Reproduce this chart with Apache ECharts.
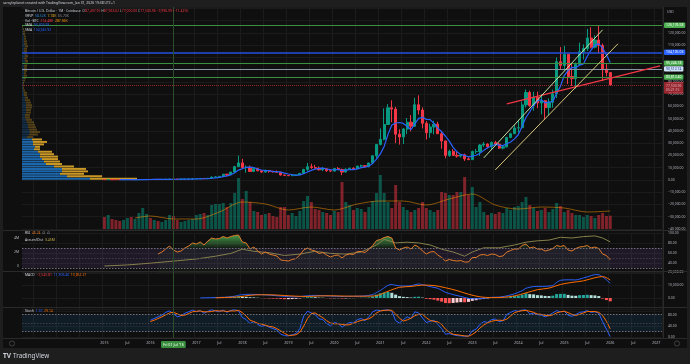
<!DOCTYPE html>
<html>
<head>
<meta charset="utf-8">
<script src="https://cdn.jsdelivr.net/npm/echarts@6/dist/echarts.min.js"></script>
<style>
html,body{margin:0;padding:0;background:#1e1e1e;}
#chart{width:690px;height:364px;}
</style>
</head>
<body>
<div id="chart"></div>
<script>
// ---------------- categories (monthly) ----------------
const firstCategory = [2013, 4];
const lastCategory = [2027, 2];
const categories = [];
(function () {
  let y = firstCategory[0], m = firstCategory[1];
  while (y < lastCategory[0] || (y === lastCategory[0] && m <= lastCategory[1])) {
    categories.push(y + '-' + (m < 10 ? '0' + m : m));
    m++; if (m > 12) { m = 1; y++; }
  }
})();

// ---------------- price data: [open, close, low, high], monthly from 2015-01 ----------------
const ohlcStart = '2015-01';
const ohlc = [
 [320,217,170,320],[217,254,212,265],[254,244,240,300],[244,236,215,260],[236,230,225,247],[230,263,220,268],
 [263,284,255,318],[284,230,198,286],[230,236,225,260],[236,314,236,330],[314,377,300,500],[377,430,350,465],
 [430,368,350,460],[368,437,365,448],[437,416,395,440],[416,448,414,470],[448,531,440,550],[531,673,530,780],
 [673,624,605,700],[624,574,480,625],[574,609,570,620],[609,700,605,720],[700,745,685,755],[745,964,745,975],
 [964,968,750,1160],[968,1190,920,1200],[1190,1080,890,1350],[1080,1350,1060,1350],[1350,2300,1350,2800],[2300,2480,2100,3000],
 [2480,2875,1850,2950],[2875,4700,2700,4800],[4700,4340,2950,5000],[4340,6450,4150,6450],[6450,10850,5500,11400],[10850,13880,10700,19890],
 [13880,10100,9200,17250],[10100,10330,5900,11800],[10330,6930,6600,11700],[6930,9240,6430,9760],[9240,7500,7050,9990],[7500,6400,5780,7770],
 [6400,7730,6080,8500],[7730,7010,5880,7760],[7010,6625,6100,7410],[6625,6340,6200,7680],[6340,4020,3550,6550],[4020,3740,3130,4260],
 [3740,3440,3350,4100],[3440,3820,3400,4200],[3820,4100,3700,4140],[4100,5330,4080,5600],[5330,8570,5330,9100],[8570,10820,7450,13880],
 [10820,10080,9080,13200],[10080,9590,9400,12330],[9590,8290,7700,10950],[8290,9150,7300,10540],[9150,7550,6520,9500],[7550,7200,6430,7750],
 [7200,9350,6860,9580],[9350,8530,8450,10500],[8530,6410,3850,9190],[6410,8630,6150,9470],[8630,9450,8100,10070],[9450,9140,8900,10400],
 [9140,11340,8990,11450],[11340,11650,10500,12480],[11650,10780,9880,12080],[10780,13800,10370,14100],[13800,19700,13200,19900],[19700,28990,17600,29300],
 [28990,33100,28100,41990],[33100,45200,32300,58350],[45200,58800,44950,61800],[58800,57750,47000,64900],[57750,37300,30000,59600],[37300,35050,28800,41300],
 [35050,41500,29300,42300],[41500,47100,37300,50500],[47100,43800,39600,52900],[43800,61300,43300,67000],[61300,57000,53300,69000],[57000,46200,42000,59100],
 [46200,38480,32950,47950],[38480,43180,34300,45800],[43180,45500,37200,48200],[45500,37650,37600,47450],[37650,31800,25400,40000],[31800,19950,17600,31950],
 [19950,23300,18800,24650],[23300,20050,19550,25200],[20050,19420,18150,22800],[19420,20500,18200,21100],[20500,17170,15480,21450],[17170,16540,16260,18380],
 [16540,23130,16500,23950],[23130,23150,21350,25250],[23150,28480,19600,29200],[28480,29250,26950,31000],[29250,27220,25800,29850],[27220,30470,24800,31400],
 [30470,29230,28850,31800],[29230,25940,25300,30200],[25940,26960,24900,27500],[26960,34650,26550,35200],[34650,37720,34100,38450],[37720,42280,37600,44700],
 [42280,42580,38500,49000],[42580,61200,41850,64000],[61200,71300,59000,73800],[71300,60650,59600,72800],[60650,67500,56500,71950],[67500,62750,58400,72000],
 [62750,64600,53500,70000],[64600,58950,49000,65100],[58950,63300,52550,66500],[63300,70200,58900,73600],[70200,96400,66800,99800],[96400,93400,90500,108300],
 [93400,102400,89200,109350],[102400,84350,78200,102500],[84350,82550,76600,95000],[82550,94200,74400,95750],[94200,104600,93400,111950],[104600,107150,98200,110500],
 [107150,115750,105100,123200],[115750,108250,107300,124450],[108250,114050,107300,117900],[114050,109600,103500,126200],[109600,90400,80600,111200],[90400,87500,84450,94500],
 [87497.95,77500.96,77000,87963.62]
];

// monthly volume, thousand BTC (from 2015-01)
const volumeK = [
 192,224,160,144,128,144,176,192,160,256,336,240,
 176,144,128,112,144,224,208,144,112,128,144,160,
 224,240,256,224,384,400,400,416,352,416,576,816,
 480,608,432,288,272,224,240,256,208,192,352,352,
 224,256,208,288,448,528,432,320,304,272,256,224,
 288,272,752,432,384,304,336,320,272,352,448,576,
 864,576,432,336,704,432,352,304,272,304,336,432,
 336,304,272,304,592,576,544,544,592,592,832,544,
 672,352,432,272,224,256,240,272,256,336,304,352,
 368,432,512,384,336,288,304,336,272,320,416,368,
 272,304,256,224,224,192,224,208,176,224,256,208,
 214.48
];
// volume moving average (thousand BTC) read at points
const volumeMA = [
 ['2015-09',176],['2016-01',208],['2016-07',160],['2017-01',160],['2017-07',272],['2018-01',432],
 ['2018-07',400],['2019-01',304],['2019-07',352],['2020-01',304],['2020-07',400],['2021-01',448],
 ['2021-07',448],['2022-01',384],['2022-07',480],['2023-01',560],['2023-07',384],['2024-01',320],
 ['2024-07',352],['2025-01',336],['2025-07',272],['2026-01',287.56]
];

// SMA on price (monthly from 2015-05)
const smaStart = '2015-05';
const sma = [
 236,245,251,249,249,265,288,317,
 345,385,406,420,440,501,538,570,602,636,650,718,
 797,913,989,1110,1380,1680,2020,2740,3340,4170,5840,8040,
 9120,10320,10420,10120,8820,8080,7560,7580,6850,6820,6350,5550,
 4830,4270,3820,4090,5050,6530,7780,8880,9470,9590,8930,8360,
 8310,8360,7810,8020,8470,8430,8990,10040,10470,11340,13450,16980,
 21270,27320,37160,44770,46430,46820,46080,43740,40950,45750,50140,51080,
 49360,49230,46070,42200,39320,35620,31640,26550,22900,20640,20090,18740,
 19350,20100,21690,24110,26250,27710,28930,28420,27960,29450,30900,33510,
 36840,43690,50900,55600,60650,64680,65360,62890,63420,63960,70690,76450,
 85140,89270,91820,91380,93620,94570,100850,105990,109960,110960,107610,101960,
 95810
];

// drawn trend lines [category, price]
const trendRed = [['2023-10', 62000], ['2027-02', 93000]];
const trendPale = [['2023-04', 18000], ['2025-11', 122400]];
const trendKhaki = [['2023-07', 8200], ['2026-03', 111000]];

// horizontal levels and last price
const levelValues = [126176.58, 104105.03, 95246.18, 90512.74, 83812.40];
const lastPrice = 77500.96;
const countdown = '05:21:15';

// visible range volume profile, 2,000 USD rows from 0 (bar length units)
const vrvpBinSize = 2000;
const vrvpUp = [68,45,38,40,40,32,24,22,20,18,18,16,12,13,11,11,10,5,7,8,7,6,6,5,4,3,3,4,4,4,4,4,3,3,2,2,1,1,1,1,1,2,2,2,2,2,2,3,3,2,3,2,2,2,3,2,2,2,2,1,1,1,0,0];
const vrvpDown = [47,35,24,26,24,20,16,16,16,18,14,14,6,5,11,14,10,6,9,10,8,8,7,7,6,5,5,5,5,6,6,5,5,3,3,3,2,1,1,1,2,2,3,2,3,3,3,3,3,3,3,3,3,3,3,3,3,2,2,2,2,1,1,0];
const vrvpValueAreaRows = 17;

// RSI (monthly from 2016-03)
const rsiStart = '2016-03';
const rsi = [
 58,62,68,74,66,62,64,70,74,80,
 78,82,76,84,90,88,89,93,90,93,95,96,
 82,80,68,72,64,58,62,58,56,54,46,45,
 44,47,49,56,66,70,66,64,59,61,56,52,
 55,56,50,56,58,57,63,63,61,67,75,85,
 87,91,93,90,70,66,70,72,68,76,72,64,
 58,62,63,56,51,44,47,45,44,45,42,42,
 51,51,56,57,55,58,57,53,54,62,65,68,
 68,75,78,70,72,68,68,64,66,69,75,73,
 75,66,64,69,72,73,75,70,72,69,58,55,
 46.24
];
// Accumulation/Distribution (millions) read at points
const accumDist = [
 ['2015-01',0.0],['2015-07',0.15],['2016-01',0.4],['2016-07',0.7],['2017-01',1.0],['2017-06',1.4],['2017-10',1.8],
 ['2018-01',2.4],['2018-04',2.1],['2018-08',1.9],['2018-12',1.5],['2019-04',1.7],['2019-08',2.1],['2019-12',1.8],
 ['2020-04',1.7],['2020-08',2.0],['2020-12',3.0],['2021-02',3.8],['2021-05',3.3],['2021-08',3.4],['2021-11',3.3],
 ['2022-02',3.0],['2022-05',2.4],['2022-08',2.0],['2022-11',1.4],['2023-01',2.0],['2023-04',2.6],['2023-08',2.6],
 ['2023-12',3.0],['2024-03',3.4],['2024-06',3.6],['2024-09',3.7],['2024-12',4.1],['2025-03',4.0],['2025-06',4.2],
 ['2025-09',4.3],['2025-11',4.0],['2026-01',3.45]
];

// MACD (thousands USD)
const macdLine = [
 ['2017-02',0.05],['2017-06',0.35],['2017-09',0.7],['2017-11',1.4],['2017-12',2.1],['2018-01',2.6],['2018-02',2.8],
 ['2018-03',2.8],['2018-05',2.7],['2018-08',2.2],['2018-11',1.5],['2019-01',1.0],['2019-03',0.9],['2019-06',1.7],
 ['2019-08',2.0],['2019-10',1.8],['2019-12',1.5],['2020-03',1.2],['2020-06',1.3],['2020-09',1.6],['2020-11',2.6],
 ['2020-12',4.2],['2021-01',5.8],['2021-02',7.8],['2021-03',9.8],['2021-04',10.4],['2021-05',9.8],['2021-07',9.2],
 ['2021-09',9.4],['2021-11',10.8],['2021-12',10.3],['2022-02',8.8],['2022-04',7.4],['2022-06',4.4],['2022-08',2.6],
 ['2022-10',1.2],['2022-12',-0.3],['2023-02',-0.6],['2023-04',-0.2],['2023-06',0.5],['2023-08',0.7],['2023-10',1.6],
 ['2023-12',3.2],['2024-02',5.6],['2024-03',7.5],['2024-05',8.8],['2024-08',9.0],['2024-10',9.6],['2024-11',12.0],
 ['2024-12',13.6],['2025-02',14.0],['2025-04',13.9],['2025-06',15.4],['2025-08',17.2],['2025-09',18.0],['2025-10',17.9],
 ['2025-11',16.2],['2025-12',14.0],['2026-01',11.31]
];
const macdSignal = [
 ['2017-06',0.15],['2017-12',0.9],['2018-03',2.1],['2018-06',2.5],['2018-09',2.4],['2018-12',1.9],['2019-03',1.4],
 ['2019-06',1.2],['2019-09',1.6],['2019-12',1.7],['2020-03',1.5],['2020-06',1.4],['2020-09',1.4],['2020-12',1.8],
 ['2021-03',5.2],['2021-06',8.2],['2021-09',8.9],['2021-12',9.9],['2022-03',9.6],['2022-06',7.9],['2022-09',5.7],
 ['2022-12',2.9],['2023-03',0.9],['2023-06',0.3],['2023-09',0.5],['2023-12',1.6],['2024-03',3.9],['2024-06',6.4],
 ['2024-09',7.6],['2024-12',10.4],['2025-03',12.0],['2025-06',13.2],['2025-09',15.6],['2025-11',16.5],['2025-12',15.6],
 ['2026-01',13.85]
];
const histStart = '2017-02';
const macdHist = [
 0.0,0.0,0.05,0.15,0.2,0.2,0.35,0.35,0.5,0.9,1.2,
 1.1,0.9,0.6,0.45,0.2,-0.1,-0.2,-0.35,-0.45,-0.5,-0.7,-0.9,
 -0.9,-0.8,-0.6,-0.3,0.2,0.6,0.7,0.6,0.3,0.2,-0.1,-0.3,
 -0.2,-0.15,-0.4,-0.3,-0.15,-0.1,0.05,0.2,0.2,0.4,1.2,2.6,
 3.6,4.2,4.6,4.0,2.6,1.4,0.9,0.7,0.4,0.9,1.0,0.3,
 -0.6,-0.9,-1.3,-2.0,-2.8,-3.9,-4.0,-3.8,-3.5,-3.2,-3.3,-3.0,
 -2.2,-1.7,-1.0,-0.6,-0.3,0.1,0.2,0.1,0.1,0.4,0.9,1.6,
 1.8,2.6,3.6,3.0,2.8,2.2,2.0,1.6,1.5,1.8,3.0,3.2,
 3.2,2.4,1.8,1.7,2.2,2.3,2.5,2.2,2.0,1.5,-0.4,-1.6,
 -2.55
];

// Stochastic (monthly from 2016-01)
const stochStart = '2016-01';
const stochK = [
 60,66,72,78,88,93,84,72,76,85,90,96,
 90,94,85,92,97,93,90,96,88,95,97,93,
 70,62,48,55,45,38,42,35,30,25,10,5,
 4,8,12,30,75,92,86,80,65,62,48,40,
 52,48,35,45,52,50,62,66,58,72,90,96,
 94,96,97,92,58,50,62,72,66,90,86,68,
 52,56,60,45,30,10,12,8,5,4,3,3,
 22,28,45,55,52,62,64,55,58,80,88,94,
 92,96,97,82,85,80,78,72,78,86,94,90,
 92,78,74,80,88,90,94,88,90,85,55,28,
 1.5
];
const stochD = [
 55,60,66,72,79,86,88,83,77,78,84,90,
 92,93,90,90,91,94,93,93,91,93,93,95,
 87,75,60,55,49,46,42,38,36,30,22,13,
 6,6,8,17,39,66,84,86,77,69,58,50,
 47,47,45,43,44,49,55,59,62,65,73,86,
 93,95,96,95,82,67,57,61,67,76,81,81,
 69,59,56,54,45,28,17,10,8,6,4,3,
 9,18,32,43,51,56,59,60,59,64,75,87,
 91,94,95,92,88,82,81,77,76,79,86,90,
 92,87,81,77,81,86,91,91,91,88,77,56,
 29.14
];
const crosshairCategory = '2016-07';

// ---------------- styling & helpers ----------------
const FONT = "'Noto Sans', 'DejaVu Sans', sans-serif";
const FS = 3.4;
const COL = {
  up: '#089981', down: '#f23645', text: '#b2b5be', bright: '#d1d4dc', grid: '#1b1b1b',
  volUp: 'rgba(8,153,129,0.5)', volDown: 'rgba(242,54,69,0.5)', blue: '#2962ff', orange: '#ff6d00',
  cross: '#2a4f2a'
};
function align(arr, start) {
  const o = categories.indexOf(start);
  return categories.map((c, i) => { const k = i - o; return (k >= 0 && k < arr.length) ? arr[k] : '-'; });
}
function fmt(v) {
  return (v < 0 ? '\u2212' : '') + Math.abs(v).toLocaleString('en-US', {minimumFractionDigits: 2, maximumFractionDigits: 2});
}
const janJul = (i, v) => /-(01|07)$/.test(v) && v !== crosshairCategory;

const OFF = categories.indexOf(ohlcStart);
const candleData = align(ohlc, ohlcStart);
const volData = categories.map((c, i) => {
  const k = i - OFF;
  if (k < 0 || k >= volumeK.length) return '-';
  const up = ohlc[k][1] >= ohlc[k][0];
  return {value: volumeK[k], itemStyle: {color: up ? COL.volUp : COL.volDown}};
});
const histAligned = align(macdHist, histStart);
const histData = histAligned.map((v, i) => {
  if (v === '-') return '-';
  const prev = (i > 0 && histAligned[i - 1] !== '-') ? histAligned[i - 1] : 0;
  let c;
  if (v >= 0) c = v >= prev ? '#26a69a' : '#b2dfdb';
  else c = v < prev ? '#ff5252' : '#ffcdd2';
  return {value: v, itemStyle: {color: c}};
});
const vrvpBins = vrvpUp.map((v, i) => String(i * vrvpBinSize));
const vrvpUpData = vrvpUp.map((v, i) => ({value: v, itemStyle: {color: i < vrvpValueAreaRows ? 'rgba(31,119,200,0.85)' : 'rgba(31,119,200,0.3)'}}));
const vrvpDownData = vrvpDown.map((v, i) => ({value: v, itemStyle: {color: i < vrvpValueAreaRows ? 'rgba(222,166,40,0.9)' : 'rgba(222,166,40,0.32)'}}));

function xAx(gridIndex, showLabels) {
  const ax = {
    type: 'category', gridIndex, data: categories, boundaryGap: true,
    axisLine: {show: false}, axisTick: {show: false},
    splitLine: {show: true, interval: janJul, lineStyle: {color: COL.grid, width: 1}},
    axisLabel: {show: false}
  };
  if (showLabels) {
    ax.axisLabel = {
      show: true, margin: 4, color: COL.text, fontSize: FS + 0.3, fontFamily: FONT,
      interval: (i, v) => /-(01|07)$/.test(v) && v >= '2015-01' && v <= '2027-01',
      formatter: v => v === crosshairCategory ? "{hl|Fri 01 Jul '16}" : (v.endsWith('-01') ? v.slice(0, 4) : 'Jul'),
      rich: {hl: {backgroundColor: '#388e3c', color: '#ffffff', padding: [1.5, 2], fontSize: FS + 0.3, fontFamily: FONT, borderRadius: 1}}
    };
  }
  return ax;
}
function rightLabel(extra) {
  return Object.assign({color: COL.text, fontSize: FS, fontFamily: FONT, margin: 6}, extra || {});
}
function badge(bg, fg) {
  return {show: true, position: 'end', distance: 2, backgroundColor: bg, color: fg, fontSize: FS, fontFamily: FONT, padding: [1.2, 2], borderRadius: 1};
}
function legendLine(x, y, parts) {
  const rich = {}; let text = '';
  parts.forEach((p, i) => { rich['p' + i] = {fill: p[1], fontSize: FS, fontFamily: FONT}; text += '{p' + i + '|' + p[0] + '}'; });
  return {type: 'text', x, y, silent: true, z: 100, style: {text, rich, fontSize: FS, fontFamily: FONT, verticalAlign: 'middle', align: 'left'}};
}
const hiddenPrice = [90000, 100000, 130000, 140000];

const levelStyles = [
  {line: '#3b8f3e', w: 1, bg: '#4caf50', fg: '#ffffff'},
  {line: '#2450e0', w: 1.6, bg: '#2962ff', fg: '#ffffff'},
  {line: '#3b8f3e', w: 1, bg: '#4caf50', fg: '#ffffff'},
  {line: '#8a96a8', w: 1, bg: '#d3e3f7', fg: '#1a3a8a'},
  {line: '#3b8f3e', w: 1, bg: '#4caf50', fg: '#ffffff'}
];
const levelMarks = levelValues.map((v, i) => ({
  yAxis: v, lineStyle: {color: levelStyles[i].line, width: levelStyles[i].w, type: 'solid'},
  label: Object.assign(badge(levelStyles[i].bg, levelStyles[i].fg), {formatter: fmt(v)})
}));
levelMarks.push({
  yAxis: lastPrice, lineStyle: {color: '#f23645', width: 1, type: 'dotted', opacity: 0.6},
  label: Object.assign(badge('#f23645', '#ffffff'), {formatter: fmt(lastPrice) + '\n' + countdown, offset: [0, 3], lineHeight: FS + 1.2})
});
levelMarks.push({
  yAxis: lastPrice, lineStyle: {opacity: 0},
  label: {show: true, position: 'insideEnd', distance: 0, formatter: 'BTCUSD', backgroundColor: '#f23645', color: '#ffffff', fontSize: FS, fontFamily: FONT, padding: [1.2, 2], offset: [0, 1]}
});

// ---------------- chart ----------------
const chart = echarts.init(document.getElementById('chart'), null, {renderer: 'canvas'});
const option = {
  animation: false,
  backgroundColor: '#1e1e1e',
  textStyle: {fontFamily: FONT},
  grid: [
    {left: 22, top: 7, width: 640, height: 222},
    {left: 22, top: 22.94, width: 640, height: 157},
    {left: 22, top: 233, width: 640, height: 40},
    {left: 22, top: 272, width: 640, height: 39},
    {left: 22, top: 309, width: 640, height: 28}
  ],
  xAxis: [
    xAx(0, false),
    {type: 'value', gridIndex: 1, min: 0, max: 640, show: false, splitLine: {show: false}},
    xAx(2, false),
    xAx(3, false),
    xAx(4, true)
  ],
  yAxis: [
    {type: 'value', gridIndex: 0, position: 'right', min: -40000, max: 141000, interval: 10000,
      axisLine: {show: false}, axisTick: {show: false}, splitLine: {lineStyle: {color: COL.grid}},
      axisLabel: rightLabel({showMaxLabel: false, formatter: v => hiddenPrice.includes(v) ? '' : fmt(v)})},
    {type: 'value', gridIndex: 0, min: 0, max: 3552, show: false, splitLine: {show: false}},
    {type: 'category', gridIndex: 1, data: vrvpBins, show: false, boundaryGap: true},
    {type: 'value', gridIndex: 2, position: 'right', min: 20, max: 100, interval: 20,
      axisLine: {show: false}, axisTick: {show: false}, splitLine: {lineStyle: {color: COL.grid}},
      axisLabel: rightLabel({showMinLabel: false, formatter: v => v.toFixed(2)})},
    {type: 'value', gridIndex: 2, position: 'left', min: -1, max: 4.714, interval: 1,
      axisLine: {show: false}, axisTick: {show: false}, splitLine: {show: false},
      axisLabel: {color: COL.text, fontSize: FS, fontFamily: FONT, margin: 3, showMaxLabel: false,
        formatter: v => v === 0 ? '0' : ((v === 2 || v === 4) ? v + 'M' : '')}},
    {type: 'value', gridIndex: 3, position: 'right', min: -10, max: 20, interval: 10,
      axisLine: {show: false}, axisTick: {show: false}, splitLine: {lineStyle: {color: COL.grid}},
      axisLabel: rightLabel({showMinLabel: false, formatter: v => fmt(v * 1000)})},
    {type: 'value', gridIndex: 4, position: 'right', min: 0, max: 100, interval: 40,
      axisLine: {show: false}, axisTick: {show: false}, splitLine: {lineStyle: {color: COL.grid}},
      axisLabel: rightLabel({showMaxLabel: false, formatter: v => v.toFixed(2)})}
  ],
  series: [
    {type: 'bar', name: 'VRVP up', xAxisIndex: 1, yAxisIndex: 2, stack: 'vrvp', data: vrvpUpData, barWidth: '80%', silent: true, z: 1},
    {type: 'bar', name: 'VRVP down', xAxisIndex: 1, yAxisIndex: 2, stack: 'vrvp', data: vrvpDownData, barWidth: '80%', silent: true, z: 1},
    {type: 'bar', name: 'Volume', xAxisIndex: 0, yAxisIndex: 1, data: volData, barWidth: '78%', silent: true, z: 1},
    {type: 'line', name: 'Vol MA', xAxisIndex: 0, yAxisIndex: 1, data: volumeMA, symbol: 'none', smooth: 0.3,
      lineStyle: {color: 'rgba(255,152,0,0.5)', width: 1}, silent: true, z: 2},
    {type: 'candlestick', name: 'BTCUSD', xAxisIndex: 0, yAxisIndex: 0, data: candleData, barWidth: '70%', z: 3,
      itemStyle: {color: COL.up, color0: COL.down, borderColor: COL.up, borderColor0: COL.down, borderWidth: 1},
      markLine: {symbol: 'none', silent: true, animation: false, data: levelMarks}},
    {type: 'line', name: 'SMA', xAxisIndex: 0, yAxisIndex: 0, data: align(sma, smaStart), symbol: 'none',
      lineStyle: {color: COL.blue, width: 1.2}, silent: true, z: 4},
    {type: 'line', name: 'trend red', xAxisIndex: 0, yAxisIndex: 0, data: trendRed, symbol: 'none',
      lineStyle: {color: '#f23645', width: 1.2}, silent: true, z: 5},
    {type: 'line', name: 'trend pale', xAxisIndex: 0, yAxisIndex: 0, data: trendPale, symbol: 'none',
      lineStyle: {color: '#c5e1a5', width: 1}, silent: true, z: 5},
    {type: 'line', name: 'trend khaki', xAxisIndex: 0, yAxisIndex: 0, data: trendKhaki, symbol: 'none',
      lineStyle: {color: '#d8c77e', width: 1}, silent: true, z: 5},
    // RSI pane
    {type: 'line', name: 'RSI fill', xAxisIndex: 2, yAxisIndex: 3, data: align(rsi, rsiStart), symbol: 'none',
      lineStyle: {opacity: 0}, silent: true, z: 2,
      areaStyle: {origin: 'start', opacity: 1, color: new echarts.graphic.LinearGradient(0, 233, 0, 248.5,
        [{offset: 0, color: 'rgba(76,175,80,1)'}, {offset: 1, color: 'rgba(76,175,80,0.05)'}], true)},
      markArea: {silent: true, itemStyle: {color: 'rgba(126,87,194,0.14)'}, data: [[{yAxis: 70}, {yAxis: 30}]]},
      markLine: {symbol: 'none', silent: true, label: {show: false},
        data: [
          {yAxis: 70, lineStyle: {color: '#6e6f78', type: [1.5, 1.5], width: 1}},
          {yAxis: 50, lineStyle: {color: '#3e3f47', type: [1.5, 1.5], width: 1}},
          {yAxis: 30, lineStyle: {color: '#6e6f78', type: [1.5, 1.5], width: 1}}
        ]}},
    {type: 'line', name: 'Accum/Dist', xAxisIndex: 2, yAxisIndex: 4, data: accumDist, symbol: 'none',
      lineStyle: {color: '#85804a', width: 1}, silent: true, z: 3},
    {type: 'line', name: 'RSI', xAxisIndex: 2, yAxisIndex: 3, data: align(rsi, rsiStart), symbol: 'none',
      lineStyle: {color: '#e07a2a', width: 1}, silent: true, z: 4},
    // MACD pane
    {type: 'bar', name: 'Histogram', xAxisIndex: 3, yAxisIndex: 5, data: histData, barWidth: '78%', silent: true, z: 2},
    {type: 'line', name: 'MACD', xAxisIndex: 3, yAxisIndex: 5, data: macdLine, symbol: 'none', smooth: 0.2,
      lineStyle: {color: COL.blue, width: 1}, silent: true, z: 3},
    {type: 'line', name: 'Signal', xAxisIndex: 3, yAxisIndex: 5, data: macdSignal, symbol: 'none', smooth: 0.3,
      lineStyle: {color: COL.orange, width: 1}, silent: true, z: 3},
    // Stoch pane
    {type: 'line', name: '%K', xAxisIndex: 4, yAxisIndex: 6, data: align(stochK, stochStart), symbol: 'none',
      lineStyle: {color: COL.blue, width: 1}, silent: true, z: 3,
      markArea: {silent: true, itemStyle: {color: 'rgba(33,150,243,0.1)'}, data: [[{yAxis: 80}, {yAxis: 20}]]},
      markLine: {symbol: 'none', silent: true, label: {show: false},
        data: [
          {yAxis: 80, lineStyle: {color: '#6e6f78', type: [1.5, 1.5], width: 1}},
          {yAxis: 50, lineStyle: {color: '#3e3f47', type: [1.5, 1.5], width: 1}},
          {yAxis: 20, lineStyle: {color: '#6e6f78', type: [1.5, 1.5], width: 1}}
        ]}},
    {type: 'line', name: '%D', xAxisIndex: 4, yAxisIndex: 6, data: align(stochD, stochStart), symbol: 'none',
      lineStyle: {color: COL.orange, width: 1}, silent: true, z: 3}
  ],
  graphic: [
    {type: 'rect', z: -10, silent: true, shape: {x: 3, y: 7, width: 684, height: 341}, style: {fill: '#0f0f0f'}},
    {type: 'line', z: 50, silent: true, shape: {x1: 3, y1: 230.5, x2: 687, y2: 230.5}, style: {stroke: '#2a2a2a', lineWidth: 1}},
    {type: 'line', z: 50, silent: true, shape: {x1: 3, y1: 271.5, x2: 687, y2: 271.5}, style: {stroke: '#2a2a2a', lineWidth: 1}},
    {type: 'line', z: 50, silent: true, shape: {x1: 3, y1: 307.5, x2: 687, y2: 307.5}, style: {stroke: '#2a2a2a', lineWidth: 1}},
    {type: 'line', z: 50, silent: true, shape: {x1: 3, y1: 338.5, x2: 687, y2: 338.5}, style: {stroke: '#2a2a2a', lineWidth: 1}},
    {type: 'line', z: 50, silent: true, shape: {x1: 663.5, y1: 7, x2: 663.5, y2: 338.5}, style: {stroke: '#2a2a2a', lineWidth: 1}},
    {type: 'circle', z: 50, silent: true, shape: {cx: 12, cy: 343.5, r: 2.6}, style: {fill: 'none', stroke: '#4a4a4a', lineWidth: 0.8}},
    {type: 'circle', z: 50, silent: true, shape: {cx: 677, cy: 343.5, r: 2.6}, style: {fill: 'none', stroke: '#4a4a4a', lineWidth: 0.8}},
    {type: 'text', z: 100, silent: true, x: 3, y: 3.5, style: {text: 'saroyleplanet created with TradingView.com, Jan 31, 2026 19:38 UTC+1', fill: COL.bright, fontSize: FS, fontFamily: FONT, verticalAlign: 'middle'}},
    {type: 'text', z: 100, silent: true, x: 667, y: 12, style: {text: 'USD', fill: COL.text, fontSize: FS, fontFamily: FONT, verticalAlign: 'middle'}},
    legendLine(25, 11, [['Bitcoin / U.S. Dollar \u00b7 1M \u00b7 Coinbase', COL.bright], ['  O', COL.text], ['87,497.95', '#f23645'], [' H', COL.text], ['87,963.62', '#f23645'], [' L', COL.text], ['77,000.00', '#f23645'], [' C', COL.text], ['77,500.96', '#f23645'], [' \u22129,996.99 (\u221211.42%)', '#f23645']]),
    legendLine(25, 15.8, [['VRVP', COL.bright], ['  58.52K', '#2f8ae0'], ['  7.18K', '#e0a826'], ['  65.70K', '#8a8d96']]),
    legendLine(25, 20.6, [['Vol \u00b7 BTC', COL.bright], ['  214.48K', '#f23645'], ['  287.56K', '#ff9800']]),
    legendLine(25, 25.4, [['SMA', COL.bright], ['  93,309.93', '#2962ff']]),
    legendLine(25, 30.2, [['SMA', COL.bright], ['  104,945.92', '#2962ff']]),
    legendLine(25, 233.5, [['RSI', COL.bright], ['  46.24', '#e07a2a'], ['  \u2205  \u2205', COL.text]]),
    legendLine(25, 240.5, [['Accum/Dist', COL.bright], ['  3.45M', '#c8b04a']]),
    legendLine(25, 275.5, [['MACD', COL.bright], ['  \u22122,545.81', '#f23645'], ['  11,306.46', '#2962ff'], ['  13,852.27', '#ff6d00']]),
    legendLine(25, 311.5, [['Stoch', COL.bright], ['  1.50', '#2962ff'], ['  29.14', '#ff6d00']]),
    {type: 'text', z: 100, silent: true, x: 3, y: 356, style: {text: 'TV', fill: COL.bright, fontSize: 6.5, fontWeight: 'bold', fontFamily: FONT, verticalAlign: 'middle'}},
    {type: 'text', z: 100, silent: true, x: 13, y: 356, style: {text: 'TradingView', fill: COL.bright, fontSize: 6.3, fontFamily: FONT, verticalAlign: 'middle'}}
  ]
};
chart.setOption(option);

// crosshair: vertical line at the hovered month, positioned through the axis scale
const crossX = Math.round(chart.convertToPixel({xAxisIndex: 0}, crosshairCategory)) + 0.5;
chart.setOption({graphic: [{id: 'crosshair', type: 'line', z: 40, silent: true,
  shape: {x1: crossX, y1: 7, x2: crossX, y2: 338}, style: {stroke: COL.cross, lineWidth: 1}}]});
</script>
</body>
</html>
